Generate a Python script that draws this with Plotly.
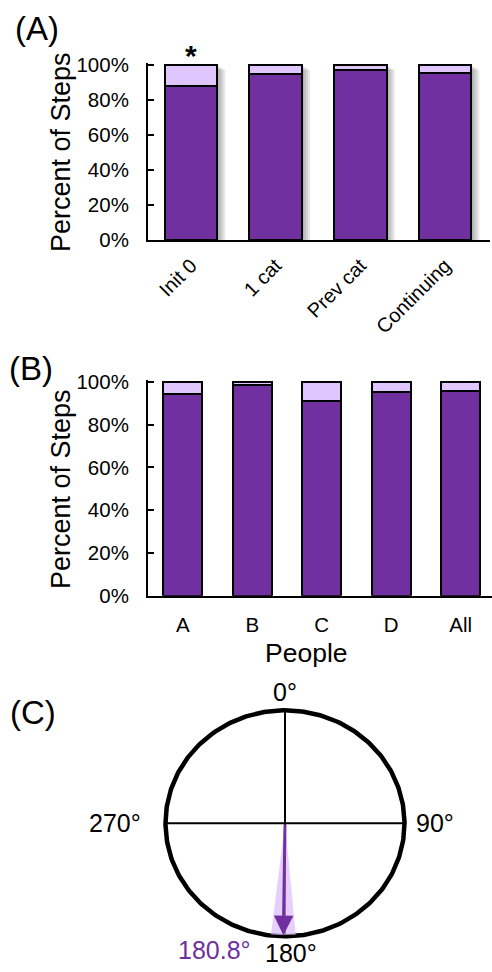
import numpy as np
import plotly.graph_objects as go

W, H = 492, 972
FONT = "Liberation Sans, Arial, sans-serif"
DARK = "#7030A0"
LIGHT = "#E0C6FF"

# ---- data -------------------------------------------------------------
cats_a = ["Init 0", "1 cat", "Prev cat", "Continuing"]
dark_a = [87.6, 94.9, 97.0, 95.4]          # % of steps (dark segment)
light_a = [100 - v for v in dark_a]        # remainder up to 100 %
sig_a = ["*", "", "", ""]                  # significance markers

cats_b = ["A", "B", "C", "D", "All"]
dark_b = [94.6, 98.8, 91.4, 95.3, 95.8]
light_b = [100 - v for v in dark_b]

y_tickvals = [0, 20, 40, 60, 80, 100]
y_ticktext = ["0%", "20%", "40%", "60%", "80%", "100%"]

compass_angles = [0, 90, 180, 270]
compass_labels = ["0°", "90°", "180°", "270°"]
mean_angle = 180.8
ci_half = 6.0
mean_label = "180.8°"


def px(x):
    return x / W


def py(y):
    return 1 - y / H


fig = go.Figure()

# ---- panel A ----------------------------------------------------------
WA = 0.62
fig.add_bar(x=cats_a, y=dark_a, width=WA, marker=dict(color=DARK, line=dict(color="black", width=2)),
            xaxis="x", yaxis="y", showlegend=False)
fig.add_bar(x=cats_a, y=light_a, width=WA, marker=dict(color=LIGHT, line=dict(color="black", width=2)),
            xaxis="x", yaxis="y", showlegend=False)

# soft drop shadow behind each bar
shapes = []
unit_x_a = 84.7   # px per category
unit_y_a = 1.75   # px per percent
for i, (d, l) in enumerate(zip(dark_a, light_a)):
    top = d + l
    for k, off in enumerate([2, 4, 6, 8]):
        shapes.append(dict(type="rect", xref="x", yref="y", layer="below",
                           x0=i - WA / 2 + off / unit_x_a, x1=i + WA / 2 + off / unit_x_a,
                           y0=0, y1=top - (off * 0.6) / unit_y_a,
                           fillcolor="rgba(80,80,80,0.13)", line=dict(width=0)))

# ---- panel B ----------------------------------------------------------
WB = 0.56
fig.add_bar(x=cats_b, y=dark_b, width=WB, marker=dict(color=DARK, line=dict(color="black", width=2)),
            xaxis="x2", yaxis="y2", showlegend=False)
fig.add_bar(x=cats_b, y=light_b, width=WB, marker=dict(color=LIGHT, line=dict(color="black", width=2)),
            xaxis="x2", yaxis="y2", showlegend=False)

# ---- panel C : compass ------------------------------------------------
theta = np.radians(np.linspace(0, 360, 361))
fig.add_scatter(x=np.sin(theta), y=np.cos(theta), mode="lines",
                line=dict(color="black", width=4.5), xaxis="x3", yaxis="y3",
                showlegend=False, hoverinfo="skip")
fig.add_scatter(x=[-1, 1, None, 0, 0], y=[0, 0, None, -1, 1], mode="lines",
                line=dict(color="black", width=2), xaxis="x3", yaxis="y3",
                showlegend=False, hoverinfo="skip")
wedge = np.radians(np.linspace(mean_angle - ci_half, mean_angle + ci_half, 30))
fig.add_scatter(x=np.concatenate([[0], 0.99 * np.sin(wedge), [0]]),
                y=np.concatenate([[0], 0.99 * np.cos(wedge), [0]]),
                mode="lines", fill="toself", fillcolor="rgba(218,188,252,0.7)",
                line=dict(width=0), xaxis="x3", yaxis="y3",
                showlegend=False, hoverinfo="skip")

ann = []
# significance markers above the bars of panel A
for c, d, l, s in zip(cats_a, dark_a, light_a, sig_a):
    if s:
        ann.append(dict(xref="x", yref="y", x=c, y=d + l, text="<b>" + s + "</b>",
                        showarrow=False, xanchor="center", yanchor="bottom", yshift=-9,
                        font=dict(size=30, color="black")))

m = np.radians(mean_angle)
ann.append(dict(xref="x3", yref="y3", axref="x3", ayref="y3",
                x=0.99 * np.sin(m), y=0.99 * np.cos(m), ax=0, ay=0,
                showarrow=True, arrowhead=2, arrowsize=1.3, arrowwidth=3,
                arrowcolor=DARK, text=""))

label_pos = {0: (0, 1.165, "center"), 90: (1.08, 0, "left"),
             180: (0.05, -1.15, "center"), 270: (-1.19, 0, "right")}
for a, t in zip(compass_angles, compass_labels):
    x, y, anchor = label_pos[a]
    ann.append(dict(xref="x3", yref="y3", x=x, y=y, text=t, showarrow=False,
                    xanchor=anchor, yanchor="middle", font=dict(size=25, color="black")))
ann.append(dict(xref="x3", yref="y3", x=-0.59, y=-1.12, text=mean_label, showarrow=False,
                xanchor="center", yanchor="middle", font=dict(size=25, color=DARK)))

# panel letters and axis titles
for t, x, y in [("(A)", 37, 29), ("(B)", 31, 368), ("(C)", 33, 712)]:
    ann.append(dict(xref="paper", yref="paper", x=px(x), y=py(y), text=t, showarrow=False,
                    xanchor="center", yanchor="middle", font=dict(size=33, color="black")))
for y in [152, 489]:
    ann.append(dict(xref="paper", yref="paper", x=px(61), y=py(y), text="Percent of Steps",
                    textangle=-90, showarrow=False, xanchor="center", yanchor="middle",
                    font=dict(size=27, color="black")))
ann.append(dict(xref="paper", yref="paper", x=px(306), y=py(653), text="People",
                showarrow=False, xanchor="center", yanchor="middle",
                font=dict(size=26.5, color="black")))

axis_common = dict(showgrid=False, zeroline=False, showline=True, linecolor="black",
                   linewidth=2, automargin=False)
yaxis_common = dict(axis_common, range=[0, 101], tickvals=y_tickvals, ticktext=y_ticktext,
                    ticks="inside", ticklen=6, tickwidth=2, tickcolor="black",
                    ticklabelstandoff=13, tickfont=dict(size=20.5, color="black"))

fig.update_layout(
    width=W, height=H, margin=dict(l=0, r=0, t=0, b=0, autoexpand=False),
    paper_bgcolor="white", plot_bgcolor="rgba(0,0,0,0)",
    font=dict(family=FONT, color="black"),
    barmode="stack", bargap=0,
    xaxis=dict(axis_common, domain=[px(148), px(490)], range=[-0.508, 3.53],
               ticks="", tickangle=-45, ticklabelstandoff=4,
               tickfont=dict(size=20, color="black"), anchor="y"),
    yaxis=dict(yaxis_common, domain=[py(240), py(63.2)], anchor="x"),
    xaxis2=dict(axis_common, domain=[px(148), 1.0], range=[-0.5, 4.45], ticks="",
                ticklabelstandoff=10, tickfont=dict(size=20.5, color="black"), anchor="y2"),
    yaxis2=dict(yaxis_common, domain=[py(595.7), py(379.6)], anchor="x2"),
    xaxis3=dict(domain=[px(141.6), px(428.4)], range=[-1.2, 1.2], visible=False,
                anchor="y3", automargin=False),
    yaxis3=dict(domain=[py(958.9), py(687.7)], range=[-1.2, 1.2], visible=False,
                anchor="x3", automargin=False),
    shapes=shapes,
    annotations=ann,
)

fig.write_html("out.html")
